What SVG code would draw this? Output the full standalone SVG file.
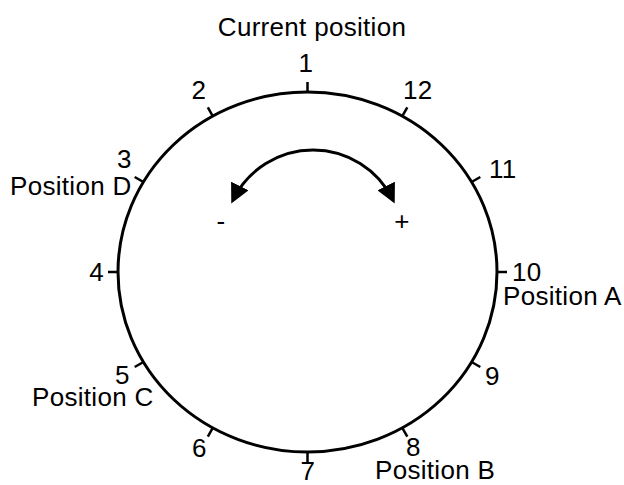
<svg xmlns="http://www.w3.org/2000/svg" width="624" height="485" viewBox="0 0 624 485">
<defs>
<style>
text{font-family:"Liberation Sans",Arial,sans-serif;font-size:26px;letter-spacing:0.3px;fill:#000}
.m{text-anchor:middle}
.e{text-anchor:end}
.tk{stroke:#000;stroke-width:2.5;fill:none}
.ln{stroke:#000;stroke-width:3;fill:none}
</style>
<marker id="ah" viewBox="0 0 10 10" refX="8" refY="5" markerWidth="6.5" markerHeight="6.5" orient="auto-start-reverse" markerUnits="strokeWidth">
<path d="M0,0 L10,5 L0,10 Z" fill="#000"/>
</marker>
</defs>
<rect width="624" height="485" fill="#fff"/>
<g id="dial">
<ellipse class="ln" cx="307.5" cy="272" rx="189.5" ry="180"/>
</g>
<g id="connectors">
<path class="ln" d="M233,200 A89,89 0 0 1 393,200" marker-start="url(#ah)" marker-end="url(#ah)"/>
</g>
<g id="ticks">
<line class="tk" x1="307.5" y1="92" x2="307.5" y2="82"/>
<line class="tk" x1="402.3" y1="116.1" x2="407.3" y2="107.4"/>
<line class="tk" x1="471.6" y1="182" x2="480.3" y2="177"/>
<line class="tk" x1="497" y1="272" x2="507" y2="272"/>
<line class="tk" x1="471.6" y1="362" x2="480.3" y2="367"/>
<line class="tk" x1="402.3" y1="427.9" x2="407.3" y2="436.6"/>
<line class="tk" x1="307.5" y1="452" x2="307.5" y2="462"/>
<line class="tk" x1="212.8" y1="427.9" x2="207.8" y2="436.6"/>
<line class="tk" x1="143.4" y1="362" x2="134.7" y2="367"/>
<line class="tk" x1="118" y1="272" x2="108" y2="272"/>
<line class="tk" x1="143.4" y1="182" x2="134.7" y2="177"/>
<line class="tk" x1="212.8" y1="116.1" x2="207.8" y2="107.4"/>
</g>
<g id="labels">
<text class="m" x="312" y="36">Current position</text>
<text class="m" x="306" y="72">1</text>
<text x="403" y="99">12</text>
<text class="m" x="199" y="99">2</text>
<text x="489" y="178">11</text>
<text x="117" y="168">3</text>
<text x="10" y="195">Position D</text>
<text class="e" x="104" y="281">4</text>
<text x="512" y="281">10</text>
<text x="503" y="305">Position A</text>
<text x="485" y="385">9</text>
<text x="115" y="384">5</text>
<text x="32" y="406">Position C</text>
<text x="192" y="457">6</text>
<text x="406" y="456">8</text>
<text class="m" x="308" y="480">7</text>
<text x="375" y="479">Position B</text>
<text class="m" x="221" y="230">-</text>
<text class="m" x="402" y="230">+</text>
</g>
</svg>
